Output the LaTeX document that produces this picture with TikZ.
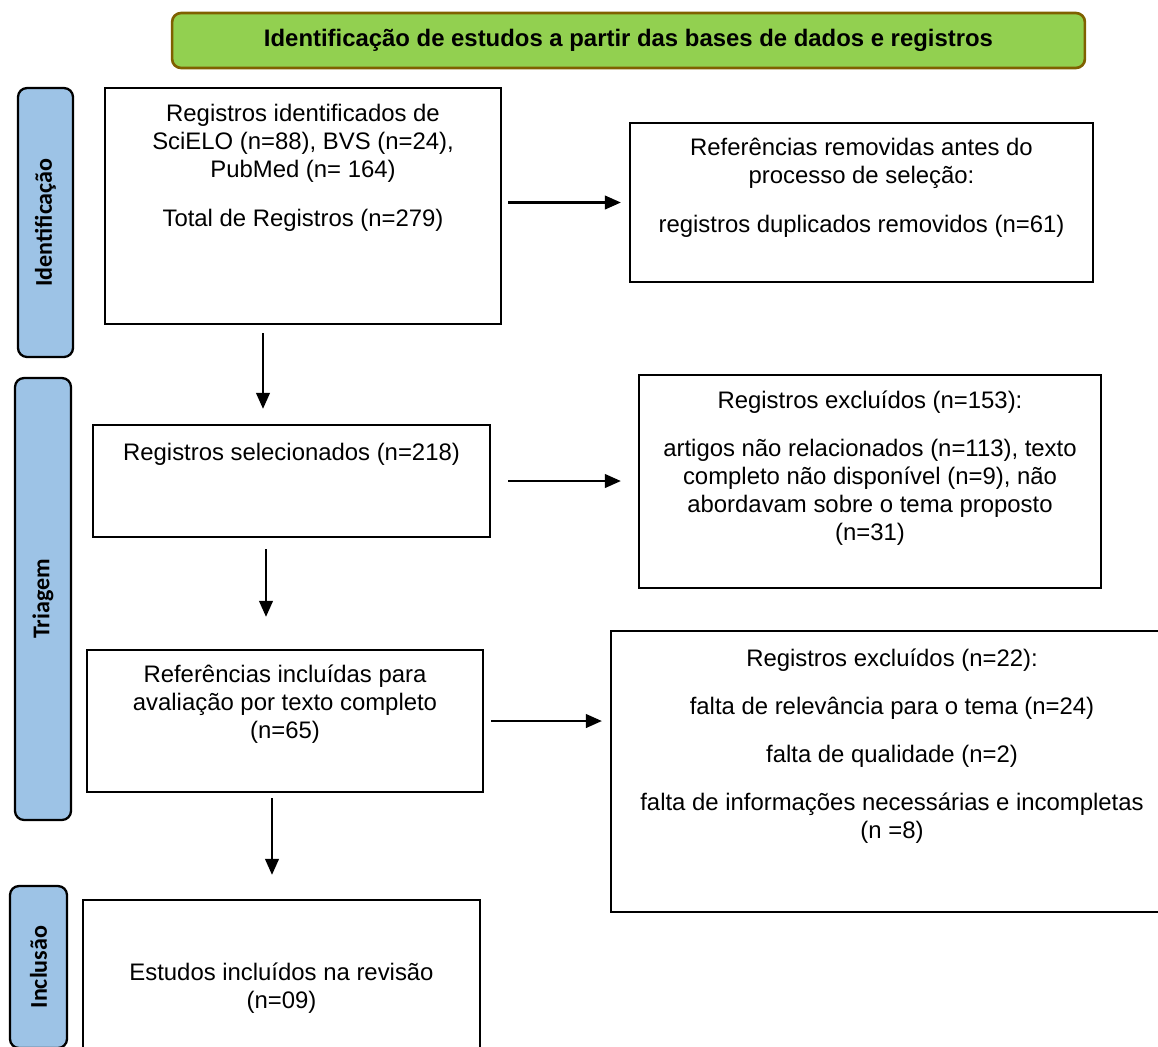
\documentclass[tikz,border=0pt]{standalone}
\usepackage{fontspec}
\setmainfont{Liberation Sans}
\newfontfamily\calibri{Carlito}
\usetikzlibrary{arrows.meta}

\definecolor{sideblue}{HTML}{9DC3E6}
\definecolor{titlegreen}{HTML}{92D050}
\definecolor{titlebrown}{HTML}{7F6000}

\begin{document}
\begin{tikzpicture}[x=0.02cm, y=-0.02cm, line width=1.4pt,
    box/.style={draw, rectangle, line width=1.3pt},
    txt/.style={align=center, anchor=base, inner sep=0pt, font=\fontsize{13.6}{15.9}\selectfont},
    side/.style={draw, rectangle, rounded corners=0.18cm, line width=1.3pt, fill=sideblue, rotate=90,
      font=\calibri\bfseries\fontsize{13.7}{16}\selectfont},
    >={Triangle[length=0.32cm, width=0.27cm]}]
  \useasboundingbox (0,0) rectangle (1158,1046);

  % Title
  \node[draw=titlebrown, fill=titlegreen, line width=1.5pt, rounded corners=0.18cm,
    minimum width=18.26cm, minimum height=1.1cm, font=\bfseries\fontsize{13.6}{16}\selectfont]
    (title) at (628.5,40.5) {Identificação de estudos a partir das bases de dados e registros};

  % Phase labels
  \node[side, minimum width=5.38cm, minimum height=1.1cm] (ident) at (45.5,222.5) {Identificação};
  \node[side, minimum width=8.84cm, minimum height=1.12cm] (triag) at (43,599) {Triagem};
  \node[side, minimum width=3.24cm, minimum height=1.14cm] (incl) at (38.5,967) {Inclusão};

  % Boxes
  \node[box, minimum width=7.92cm, minimum height=4.72cm] (reg) at (303,206) {};
  \node[box, minimum width=9.26cm, minimum height=3.18cm] (rem) at (861.5,202.5) {};
  \node[box, minimum width=7.94cm, minimum height=2.24cm] (sel) at (291.5,481) {};
  \node[box, minimum width=9.24cm, minimum height=4.26cm] (exc) at (870,481.5) {};
  \node[box, minimum width=7.92cm, minimum height=2.84cm] (ref) at (285,721) {};
  \node[box, minimum width=11.24cm, minimum height=5.62cm] (excft) at (892,771.5) {};
  \node[box, minimum width=7.94cm, minimum height=3.5cm] (inc) at (281.5,987.5) {};

  % Box texts (placed at the baseline of their last line)
  \node[txt] (regT) at (303,226) {Registros identificados de\\SciELO (n=88), BVS (n=24),\\PubMed (n= 164)\\[11.9pt]Total de Registros (n=279)};
  \node[txt] (remT) at (861.5,232) {Referências removidas antes do\\processo de seleção:\\[11.9pt]registros duplicados removidos (n=61)};
  \node[txt] (selT) at (291.5,460) {Registros selecionados (n=218)};
  \node[txt] (excT) at (870,540) {Registros excluídos (n=153):\\[11.3pt]artigos não relacionados (n=113), texto\\completo não disponível (n=9), não\\abordavam sobre o tema proposto\\(n=31)};
  \node[txt] (refT) at (285,738) {Referências incluídas para\\avaliação por texto completo\\(n=65)};
  \node[txt] (excftT) at (892,838) {Registros excluídos (n=22):\\[11.3pt]falta de relevância para o tema (n=24)\\[11.3pt]falta de qualidade (n=2)\\[11.3pt]falta de informações necessárias e incompletas\\(n =8)};
  \node[txt] (incT) at (281.5,1008) {Estudos incluídos na revisão\\(n=09)};

  % Arrows
  \coordinate (d1) at (263,0);
  \coordinate (d2) at (266,0);
  \coordinate (d3) at (272,0);
  \draw [->, shorten <=0.12cm, shorten >=0.16cm] (reg.east |- rem.west) -- (rem.west);
  \draw [->, shorten <=0.34cm, shorten >=0.34cm] (sel.east) -- (exc.west |- sel.east);
  \draw [->, shorten <=0.14cm, shorten >=0.16cm] (ref.east) -- (excft.west |- ref.east);
  \draw [->, shorten <=0.16cm, shorten >=0.3cm] (reg.south -| d1) -- (sel.north -| d1);
  \draw [->, shorten <=0.22cm, shorten >=0.64cm] (sel.south -| d2) -- (ref.north -| d2);
  \draw [->, shorten <=0.1cm, shorten >=0.48cm] (ref.south -| d3) -- (inc.north -| d3);
\end{tikzpicture}
\end{document}
